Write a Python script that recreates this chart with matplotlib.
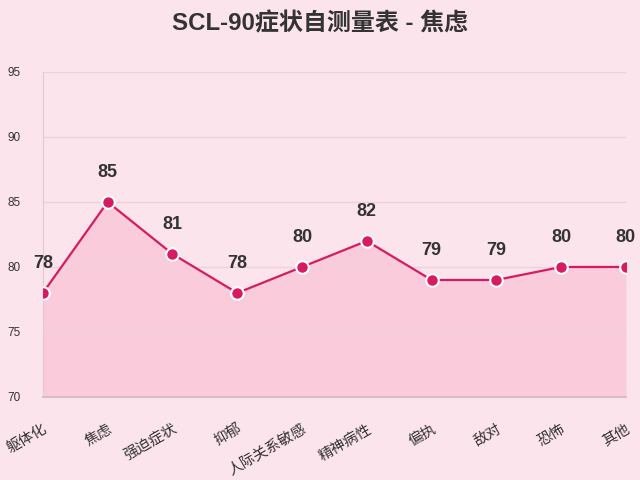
import matplotlib
matplotlib.use("Agg")
import matplotlib.pyplot as plt
from matplotlib.transforms import ScaledTranslation

categories = ["躯体化", "焦虑", "强迫症状", "抑郁", "人际关系敏感", "精神病性", "偏执", "敌对", "恐怖", "其他"]
values = [78, 85, 81, 78, 80, 82, 79, 79, 80, 80]
yticks = [70, 75, 80, 85, 90, 95]

plt.rcParams['font.family'] = ['Liberation Sans', 'Noto Sans CJK SC', 'DejaVu Sans']

bg = '#fce4ec'
line_c = '#d81b60'
fig = plt.figure(figsize=(6.4, 4.8), dpi=100, facecolor=bg)
ax = fig.add_axes([0.067, 0.173, 0.911, 0.677], facecolor=bg)

x = list(range(len(categories)))
ax.fill_between(x, values, 70, color='#f8bbd0', alpha=0.6, zorder=1, linewidth=0)
ax.plot(x, values, color=line_c, linewidth=1.6, zorder=3,
        marker='o', markersize=9, markerfacecolor=line_c,
        markeredgecolor='white', markeredgewidth=1.5)
for xi, v in zip(x, values):
    ax.annotate(str(v), (xi, v), xytext=(0, 21), textcoords='offset points',
                ha='center', va='center', fontsize=13, fontweight='bold',
                color='#333333', zorder=4)

ax.set_xlim(0, len(categories) - 1)
ax.set_ylim(70, 95)
ax.set_yticks(yticks)
ax.set_xticks(x)
ax.set_xticklabels(categories, rotation=30, ha='right', rotation_mode='anchor',
                   fontsize=10.5, color='#333333')
offset = ScaledTranslation(4 / 100, 0, fig.dpi_scale_trans)
for lab in ax.get_xticklabels():
    lab.set_transform(lab.get_transform() + offset)
ax.tick_params(axis='y', labelsize=8.5, colors='#333333', length=0, pad=16)
ax.tick_params(axis='x', length=0, pad=18)
ax.grid(axis='y', color='#f0d0dc', linewidth=1, zorder=0)
for s in ['top', 'right']:
    ax.spines[s].set_visible(False)
ax.spines['left'].set_color('#e6c8d2')
ax.spines['bottom'].set_color('#d8b4c2')
ax.spines['bottom'].set_linewidth(1.2)

fig.suptitle('SCL-90症状自测量表 - 焦虑', y=0.975, fontsize=17.3, fontweight='bold', color='#333333')
fig.savefig('out.png', dpi=100, facecolor=bg)
